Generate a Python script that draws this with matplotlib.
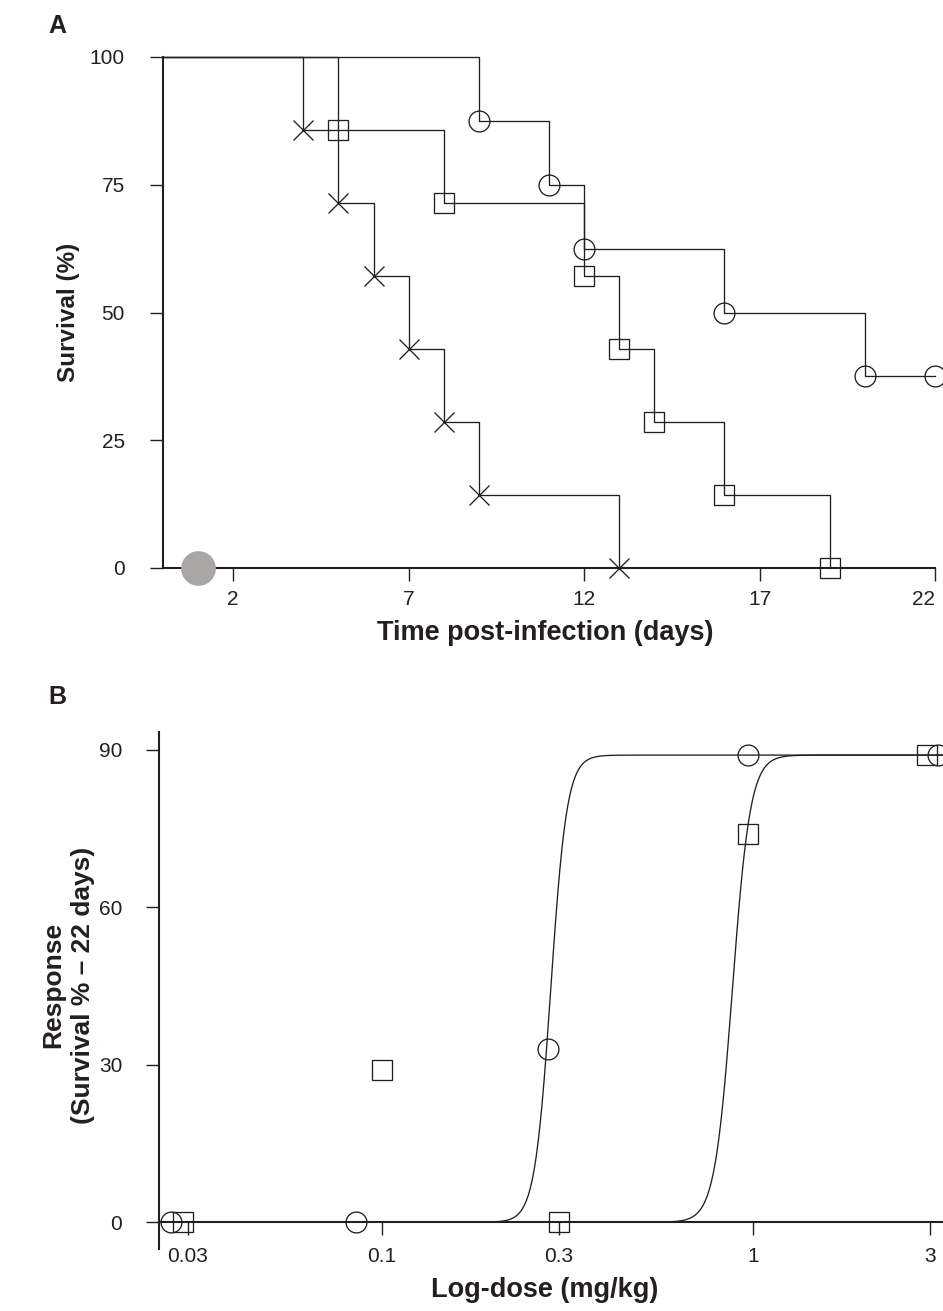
import numpy as np
import matplotlib
matplotlib.use("Agg")
import matplotlib.pyplot as plt
from matplotlib.ticker import FixedLocator, NullLocator

plt.rcParams['font.family'] = ['Liberation Sans', 'DejaVu Sans']

INK = "#231f20"

# A: survival curves (Kaplan-Meier style)
circle_days = [0, 9, 11, 12, 16, 20, 22]
circle_surv = [100, 87.5, 75, 62.5, 50, 37.5, 37.5]
square_days = [0, 5, 8, 12, 13, 14, 16, 19]
square_surv = [100, 85.7, 71.4, 57.1, 42.9, 28.6, 14.3, 0]
cross_days = [0, 4, 5, 6, 7, 8, 9, 13]
cross_surv = [100, 85.7, 71.4, 57.1, 42.9, 28.6, 14.3, 0]
infection_day = [1]
infection_surv = [0]
day_ticks = [2, 7, 12, 17, 22]
surv_ticks = [0, 25, 50, 75, 100]

# B: dose response
circ_dose = [0.027, 0.085, 0.28, 0.97, 3.15]
circ_resp = [0, 0, 33, 89, 89]
sq_dose = [0.029, 0.1, 0.3, 0.97, 2.95]
sq_resp = [0, 29, 0, 74, 89]
circ_fit = {"top": 89, "ec50": 0.285, "hill": 20}
sq_fit = {"top": 89, "ec50": 0.88, "hill": 18}
dose_ticks = [0.03, 0.1, 0.3, 1, 3]
dose_labels = ["0.03", "0.1", "0.3", "1", "3"]
resp_ticks = [0, 30, 60, 90]

W, H = 943, 1311
fig = plt.figure(figsize=(W / 100, H / 100), dpi=100)


def box(x0, y0, x1, y1):
    return [x0 / W, 1 - y1 / H, (x1 - x0) / W, (y1 - y0) / H]


def px(x, y):
    return x / W, 1 - y / H


def style_axes(ax, ypad, xpad):
    for s in ["top", "right"]:
        ax.spines[s].set_visible(False)
    for s in ["left", "bottom"]:
        ax.spines[s].set_linewidth(1.5)
        ax.spines[s].set_color(INK)
    ax.tick_params(axis="both", direction="out", length=9.5, width=1.0,
                   color=INK, labelcolor=INK, labelsize=15)
    ax.tick_params(axis="y", pad=ypad)
    ax.tick_params(axis="x", pad=xpad)


line_kw = dict(color=INK, lw=0.95, clip_on=False)
mk_kw = dict(ls="none", ms=15, mfc="none", mec=INK, mew=0.95, clip_on=False)

# ---- panel A ----
ax1 = fig.add_axes(box(163, 57, 935, 568))
ax1.set_xlim(0, 22)
ax1.set_ylim(0, 100)

for days, surv, m in [(circle_days, circle_surv, "o"),
                      (square_days, square_surv, "s"),
                      (cross_days, cross_surv, "x")]:
    ax1.step(days, surv, where="post", **line_kw)
    ax1.plot(days[1:], surv[1:], marker=m, **mk_kw)

ax1.plot(infection_day, infection_surv, ls="none", marker="o", ms=25,
         mfc="#aaa6a6", mec="none", clip_on=False, zorder=5)

ax1.set_xticks(day_ticks)
ax1.set_yticks(surv_ticks)
style_axes(ax1, ypad=18, xpad=6)
ax1.get_xticklabels()[-1].set_horizontalalignment("right")
ax1.get_xticklabels()[-1].set_x(22)

fig.text(*px(57, 26), "A", fontsize=18, fontweight="bold", ha="center", va="center", color=INK)
fig.text(*px(68, 312), "Survival (%)", fontsize=17.5, fontweight="bold", rotation=90,
         ha="center", va="center", color=INK)
fig.text(*px(545, 633), "Time post-infection (days)", fontsize=19.5, fontweight="bold",
         ha="center", va="center", color=INK)

# ---- panel B ----
ax2 = fig.add_axes(box(159, 732, 943, 1249))
ax2.set_xscale("log")
ax2.set_xlim(0.02506, 3.25)
ax2.set_ylim(-5.1, 93.4)
ax2.spines["bottom"].set_position(("data", 0))

xs = np.geomspace(0.02506, 3.25, 400)
for fit in [circ_fit, sq_fit]:
    ys = fit["top"] / (1 + (fit["ec50"] / xs) ** fit["hill"])
    ax2.plot(xs, ys, **line_kw)

ax2.plot(circ_dose, circ_resp, marker="o", **mk_kw)
ax2.plot(sq_dose, sq_resp, marker="s", **mk_kw)

ax2.xaxis.set_major_locator(FixedLocator(dose_ticks))
ax2.xaxis.set_minor_locator(NullLocator())
ax2.set_xticklabels(dose_labels)
ax2.set_yticks(resp_ticks)
style_axes(ax2, ypad=17, xpad=8)

fig.text(*px(57, 697), "B", fontsize=18, fontweight="bold", ha="center", va="center", color=INK)
fig.text(*px(68, 985), "Response\n(Survival % \u2013 22 days)", fontsize=19, fontweight="bold",
         rotation=90, ha="center", va="center", multialignment="center",
         linespacing=1.3, color=INK)
fig.text(*px(545, 1290), "Log-dose (mg/kg)", fontsize=19.5, fontweight="bold",
         ha="center", va="center", color=INK)

fig.savefig("out.png", dpi=100)
